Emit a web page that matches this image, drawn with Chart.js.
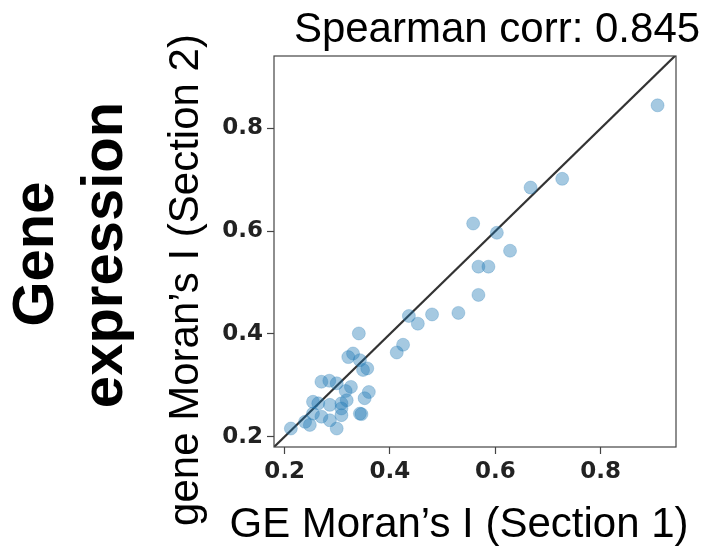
<!DOCTYPE html>
<html>
<head>
<meta charset="utf-8">
<script src="https://cdn.jsdelivr.net/npm/chart.js@4/dist/chart.umd.min.js"></script>
<style>
  html, body { margin: 0; padding: 0; background: #fff; }
  #wrap { width: 707px; height: 550px; position: relative; }
</style>
</head>
<body>
<div id="wrap"><canvas id="chart" width="707" height="550"></canvas></div>
<script>
// -----------------------
// Data
// -----------------------
const geSection1 = [
  0.908, 0.727, 0.667, 0.558, 0.603, 0.628, 0.568, 0.587, 0.568, 0.530,
  0.480, 0.436, 0.453, 0.425, 0.413, 0.341, 0.321, 0.330, 0.343, 0.357,
  0.349, 0.270, 0.285, 0.299, 0.326, 0.316, 0.360, 0.352, 0.254, 0.264,
  0.286, 0.308, 0.318, 0.308, 0.343, 0.254, 0.270, 0.239, 0.248, 0.286,
  0.299, 0.212, 0.308, 0.346
];
const geSection2 = [
  0.845, 0.702, 0.685, 0.615, 0.597, 0.562, 0.531, 0.531, 0.476, 0.441,
  0.438, 0.435, 0.420, 0.379, 0.364, 0.401, 0.355, 0.362, 0.349, 0.333,
  0.330, 0.307, 0.309, 0.304, 0.297, 0.289, 0.287, 0.275, 0.268, 0.265,
  0.262, 0.265, 0.271, 0.255, 0.245, 0.245, 0.239, 0.229, 0.223, 0.232,
  0.216, 0.216, 0.242, 0.244
];
const tickValues = [0.2, 0.4, 0.6, 0.8];
const xRange = [0.18, 0.943];
const yRange = [0.18, 0.941];
const identityLine = [0.18, 0.943];

const titleText = 'Spearman corr: 0.845';
const xLabel = 'GE Moran\u2019s I (Section 1)';
const yLabel = 'gene Moran\u2019s I (Section 2)';
const rowLabel = ['Gene', 'expression'];

// -----------------------
// Plugins
// -----------------------
const frame = {
  id: 'frame',
  afterDatasetsDraw(chart) {
    const { ctx, chartArea: a } = chart;
    ctx.save();
    ctx.strokeStyle = '#444';
    ctx.lineWidth = 1.2;
    ctx.strokeRect(a.left, a.top, a.right - a.left, a.bottom - a.top);
    ctx.restore();
  }
};

const labels = {
  id: 'labels',
  afterDraw(chart) {
    const { ctx } = chart;
    ctx.save();
    ctx.fillStyle = '#000';
    ctx.textBaseline = 'alphabetic';

    // title
    ctx.font = '42px "Liberation Sans", Arial, sans-serif';
    ctx.textAlign = 'center';
    ctx.fillText(titleText, 497, 42);

    // x label
    ctx.fillText(xLabel, 459, 537);

    // y label (rotated)
    ctx.save();
    ctx.translate(198, 280);
    ctx.rotate(-Math.PI / 2);
    ctx.fillText(yLabel, 0, 0);
    ctx.restore();

    // row label
    ctx.font = 'bold 58px "Liberation Sans", Arial, sans-serif';
    ctx.save();
    ctx.translate(53, 254);
    ctx.rotate(-Math.PI / 2);
    ctx.fillText(rowLabel[0], 0, 0);
    ctx.restore();
    ctx.save();
    ctx.translate(122, 255);
    ctx.rotate(-Math.PI / 2);
    ctx.fillText(rowLabel[1], 0, 0);
    ctx.restore();

    ctx.restore();
  }
};

// -----------------------
// Chart
// -----------------------
const points = geSection1.map((x, i) => ({ x, y: geSection2[i] }));
const diag = identityLine.map(v => ({ x: v, y: v }));
const tickFont = { family: '"DejaVu Sans", sans-serif', size: 23, weight: 'bold' };

new Chart(document.getElementById('chart'), {
  type: 'scatter',
  data: {
    datasets: [
      {
        data: points,
        backgroundColor: 'rgba(31,119,180,0.4)',
        borderColor: 'rgba(31,119,180,0.25)',
        borderWidth: 1,
        pointRadius: 6.5,
        pointHoverRadius: 6.5
      },
      {
        type: 'line',
        data: diag,
        borderColor: '#333',
        borderWidth: 2.2,
        pointRadius: 0,
        fill: false
      }
    ]
  },
  options: {
    responsive: false,
    animation: false,
    events: [],
    layout: { padding: { top: 56, right: 31, left: 0, bottom: 0 } },
    plugins: { legend: { display: false }, tooltip: { enabled: false }, title: { display: false } },
    scales: {
      x: {
        type: 'linear',
        min: xRange[0],
        max: xRange[1],
        afterBuildTicks: s => { s.ticks = tickValues.map(v => ({ value: v })); },
        afterFit: s => { s.height = 103; },
        grid: { drawOnChartArea: false, tickLength: 7, color: '#444', tickWidth: 1.2 },
        border: { display: false },
        ticks: { color: '#222', font: tickFont, padding: 4, callback: v => v.toFixed(1) }
      },
      y: {
        type: 'linear',
        min: yRange[0],
        max: yRange[1],
        afterBuildTicks: s => { s.ticks = tickValues.map(v => ({ value: v })); },
        afterFit: s => { s.width = 274; },
        grid: { drawOnChartArea: false, tickLength: 7, color: '#444', tickWidth: 1.2 },
        border: { display: false },
        ticks: { color: '#222', font: tickFont, padding: 4, callback: v => v.toFixed(1) }
      }
    }
  },
  plugins: [frame, labels]
});
</script>
</body>
</html>
